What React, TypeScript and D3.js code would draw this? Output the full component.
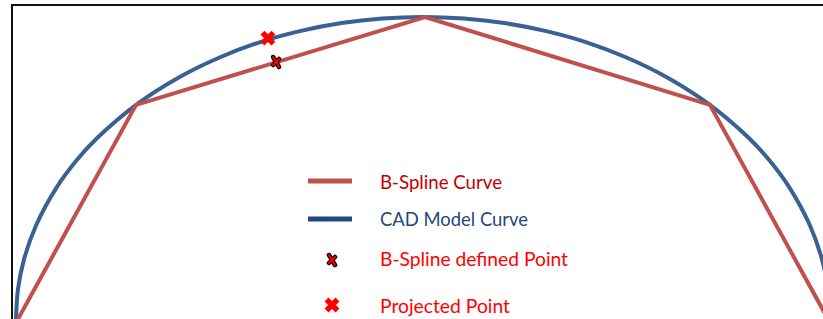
import React from "react";
import * as d3 from "d3";

// CAD model curve (normalised units)
const cadX = [-1, -0.995, -0.98, -0.95, -0.9, -0.85, -0.8, -0.7, -0.6, -0.5, -0.4, -0.3, -0.2, -0.1, 0, 0.1, 0.2, 0.3, 0.4, 0.5, 0.6, 0.7, 0.8, 0.85, 0.9, 0.95, 0.98, 0.995, 1];
const cadY = [0, 0.1, 0.199, 0.312, 0.436, 0.527, 0.6, 0.714, 0.8, 0.866, 0.917, 0.954, 0.98, 0.995, 1, 0.995, 0.98, 0.954, 0.917, 0.866, 0.8, 0.714, 0.6, 0.527, 0.436, 0.312, 0.199, 0.1, 0];

// B-spline control polygon
const splineX = [-0.995, -0.705, 0.005, 0.705, 0.995];
const splineY = [0, 0.709, 1, 0.709, 0];

// Points
const definedPoint = [-0.361, 0.851];
const projectedPoint = [-0.381, 0.93];

// Legend
const legendLabels = ["B-Spline Curve", "CAD Model Curve", "B-Spline defined Point", "Projected Point"];
const legendColors = ["#C00000", "#1F497D", "#FF0000", "#FF0000"];
const legendWidths = [122, 148, 188, 130];

const W = 823;
const H = 319;

export default function App() {
  const x = d3.scaleLinear().domain([-1, 1]).range([16, 830]);
  const y = d3.scaleLinear().domain([0, 1]).range([319, 17]);

  const cadPts: [number, number][] = cadX.map((v, i) => [v, cadY[i]]);
  const splPts: [number, number][] = splineX.map((v, i) => [v, splineY[i]]);

  const cadLine = d3
    .line<[number, number]>()
    .x((d) => x(d[0]))
    .y((d) => y(d[1]))
    .curve(d3.curveCatmullRom.alpha(0.5));
  const splLine = d3
    .line<[number, number]>()
    .x((d) => x(d[0]))
    .y((d) => y(d[1]))
    .curve(d3.curveLinear);

  const smallMark = (cx: number, cy: number) => {
    const p = `M${cx - 3},${cy - 5} L${cx + 3},${cy + 5} M${cx + 3},${cy - 3} L${cx - 3},${cy + 3}`;
    return (
      <g>
        <path d={p} stroke="#000" strokeWidth={4.5} strokeLinecap="round" fill="none" />
        <path d={p} stroke="#FF0000" strokeWidth={2} strokeLinecap="round" fill="none" />
      </g>
    );
  };
  const bigMark = (cx: number, cy: number) => {
    const s = 5.5;
    const p = `M${cx - s},${cy - s} L${cx + s},${cy + s} M${cx + s},${cy - s} L${cx - s},${cy + s}`;
    return <path d={p} stroke="#FF0000" strokeWidth={5.5} strokeLinecap="butt" fill="none" />;
  };

  const textX = 380;
  const baselines = [188.5, 226, 266, 312.5];
  const font = "Lato, 'Open Sans', sans-serif";

  return (
    <svg
      width={W}
      height={H}
      style={{ position: "absolute", left: 0, top: 0, background: "#fff" }}
    >
      <rect x={0} y={0} width={W} height={H} fill="#fff" />
      {/* frame */}
      <path d={`M12,${H} L12,5 L${W},5`} stroke="#111" strokeWidth={2} fill="none" />

      <path d={cadLine(cadPts) || ""} stroke="#3A6193" strokeWidth={4} fill="none" />
      <path d={splLine(splPts) || ""} stroke="#C0504D" strokeWidth={4} fill="none" strokeLinejoin="miter" />

      {bigMark(x(projectedPoint[0]), y(projectedPoint[1]))}
      {smallMark(x(definedPoint[0]), y(definedPoint[1]))}

      {/* legend */}
      <line x1={308} x2={352} y1={181} y2={181} stroke="#C0504D" strokeWidth={5} />
      <line x1={308} x2={352} y1={219} y2={219} stroke="#1F497D" strokeWidth={5} />
      {smallMark(332, 260)}
      {bigMark(332, 305)}
      {legendLabels.map((t, i) => (
        <text
          key={t}
          x={textX}
          y={baselines[i]}
          fill={legendColors[i]}
          fontFamily={font}
          fontSize={20}
          textLength={legendWidths[i]}
          lengthAdjust="spacingAndGlyphs"
        >
          {t}
        </text>
      ))}
    </svg>
  );
}
